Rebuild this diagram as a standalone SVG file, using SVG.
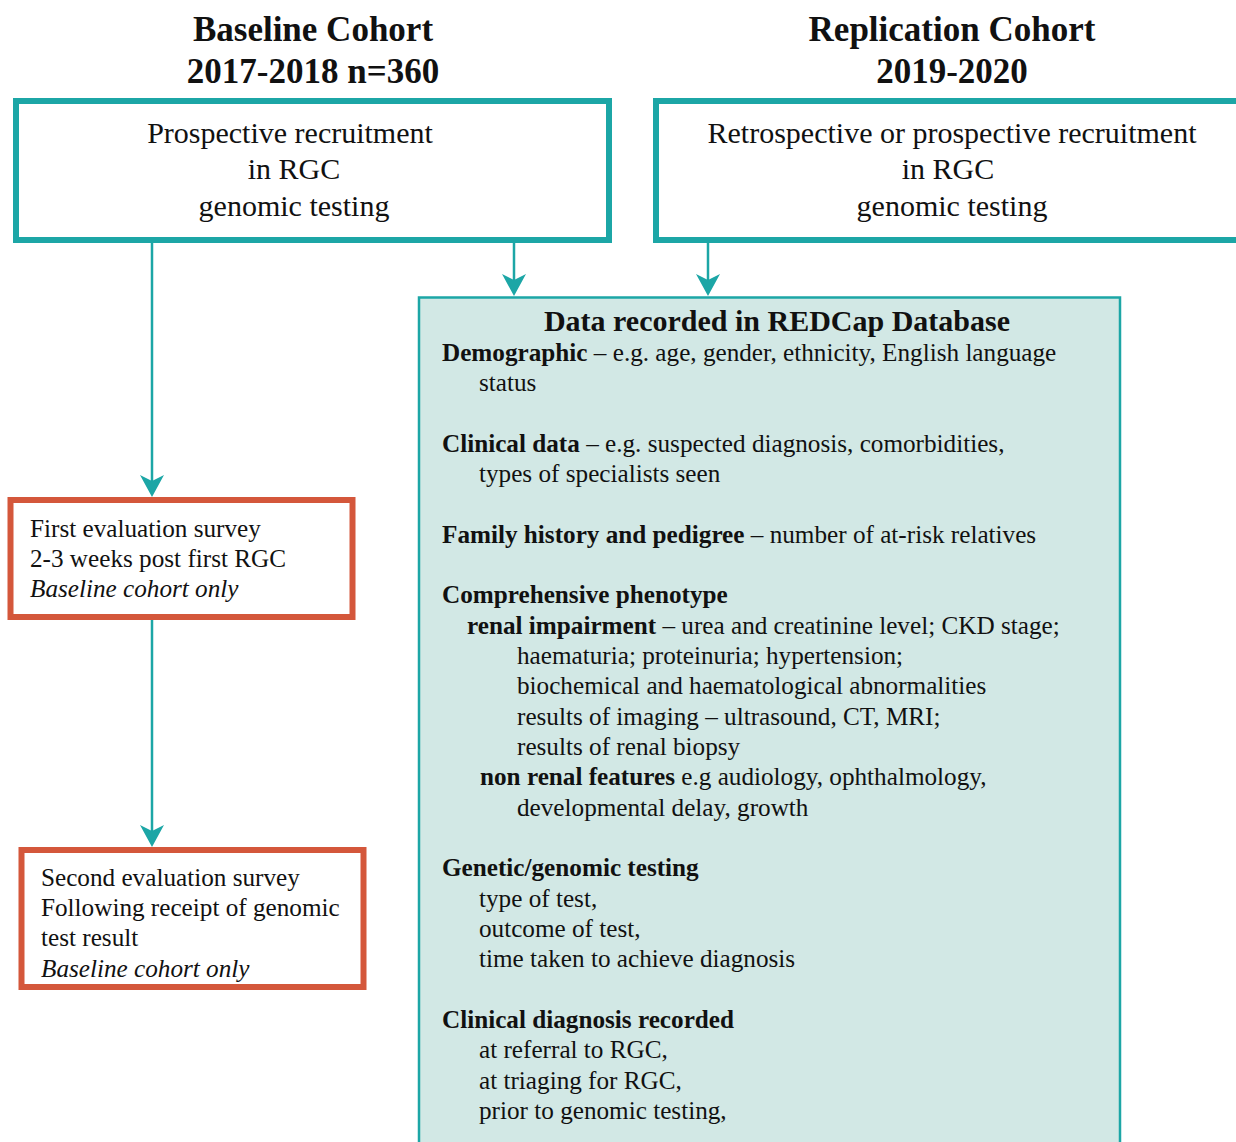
<svg xmlns="http://www.w3.org/2000/svg" width="1236" height="1142" viewBox="0 0 1236 1142">
<defs>
<style>
text{font-family:"Liberation Serif","Times New Roman",serif;fill:#111;}
.title{font-size:35px;font-weight:bold;text-anchor:middle;}
.top{font-size:30px;text-anchor:middle;}
.t{font-size:25.2px;}
.b{font-weight:bold;}
.i{font-style:italic;}
.teal{fill:#fff;stroke:#1CA6A6;stroke-width:6;}
.orange{fill:#fff;stroke:#D4573B;stroke-width:6;}
.db{fill:#D2E8E5;stroke:#1CA6A6;stroke-width:2.5;}
.conn{stroke:#1CA6A6;stroke-width:2.5;fill:none;}
.head{fill:#1CA6A6;}
</style>
</defs>
<rect width="1236" height="1142" fill="#fff"/>
<g id="header-baseline">
<text class="title" x="313" y="41">Baseline Cohort</text>
<text class="title" x="313" y="83">2017-2018 n=360</text>
</g>
<g id="header-replication">
<text class="title" x="952" y="41">Replication Cohort</text>
<text class="title" x="952" y="83">2019-2020</text>
</g>
<g id="connectors">
<line class="conn" x1="152" y1="243" x2="152" y2="482"/>
<path class="head" d="M140,475 L152,497 L164,475 L152,481 Z"/>
<line class="conn" x1="152" y1="619" x2="152" y2="832"/>
<path class="head" d="M140,825 L152,847 L164,825 L152,831 Z"/>
<line class="conn" x1="514" y1="243" x2="514" y2="281"/>
<path class="head" d="M502,274 L514,296 L526,274 L514,280 Z"/>
<line class="conn" x1="708" y1="243" x2="708" y2="281"/>
<path class="head" d="M696,274 L708,296 L720,274 L708,280 Z"/>
</g>
<g id="node-prospective">
<rect class="teal" x="16" y="101" width="593" height="139"/>
<text class="top" x="290" y="143">Prospective recruitment</text>
<text class="top" x="294" y="179">in RGC</text>
<text class="top" x="294" y="216">genomic testing</text>
</g>
<g id="node-retrospective">
<rect class="teal" x="656" y="101" width="600" height="139"/>
<text class="top" x="952" y="143">Retrospective or prospective recruitment</text>
<text class="top" x="948" y="179">in RGC</text>
<text class="top" x="952" y="216">genomic testing</text>
</g>
<g id="node-first-survey">
<rect class="orange" x="10.5" y="500" width="342" height="117"/>
<text class="t" x="30" y="537">First evaluation survey</text>
<text class="t" x="30" y="567">2-3 weeks post first RGC</text>
<text class="t i" x="30" y="597">Baseline cohort only</text>
</g>
<g id="node-second-survey">
<rect class="orange" x="21.5" y="850" width="342" height="137"/>
<text class="t" x="41" y="886">Second evaluation survey</text>
<text class="t" x="41" y="916">Following receipt of genomic</text>
<text class="t" x="41" y="946">test result</text>
<text class="t i" x="41" y="977">Baseline cohort only</text>
</g>
<g id="node-database">
<rect class="db" x="419" y="297.5" width="701" height="870"/>
<text class="b" x="777" y="331" text-anchor="middle" style="font-size:30px">Data recorded in REDCap Database</text>
<text class="t" x="442" y="361"><tspan class="b">Demographic</tspan> – e.g. age, gender, ethnicity, English language</text>
<text class="t" x="479" y="391">status</text>
<text class="t" x="442" y="452"><tspan class="b">Clinical data</tspan> – e.g. suspected diagnosis, comorbidities,</text>
<text class="t" x="479" y="482">types of specialists seen</text>
<text class="t" x="442" y="543"><tspan class="b">Family history and pedigree</tspan> – number of at-risk relatives</text>
<text class="t b" x="442" y="603">Comprehensive phenotype</text>
<text class="t" x="467" y="634"><tspan class="b">renal impairment</tspan> – urea and creatinine level; CKD stage;</text>
<text class="t" x="517" y="664">haematuria; proteinuria; hypertension;</text>
<text class="t" x="517" y="694">biochemical and haematological abnormalities</text>
<text class="t" x="517" y="725">results of imaging – ultrasound, CT, MRI;</text>
<text class="t" x="517" y="755">results of renal biopsy</text>
<text class="t" x="480" y="785"><tspan class="b">non renal features</tspan> e.g audiology, ophthalmology,</text>
<text class="t" x="517" y="816">developmental delay, growth</text>
<text class="t b" x="442" y="876">Genetic/genomic testing</text>
<text class="t" x="479" y="907">type of test,</text>
<text class="t" x="479" y="937">outcome of test,</text>
<text class="t" x="479" y="967">time taken to achieve diagnosis</text>
<text class="t b" x="442" y="1028">Clinical diagnosis recorded</text>
<text class="t" x="479" y="1058">at referral to RGC,</text>
<text class="t" x="479" y="1089">at triaging for RGC,</text>
<text class="t" x="479" y="1119">prior to genomic testing,</text>
</g>
</svg>
